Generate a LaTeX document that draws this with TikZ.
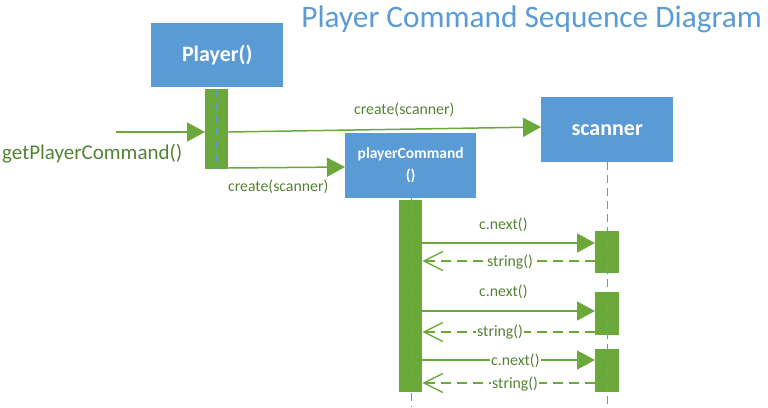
\documentclass[tikz,border=0pt]{standalone}
\usepackage{fontspec}
\setmainfont{Carlito}
\usetikzlibrary{arrows.meta}
\definecolor{boxblue}{RGB}{91,155,213}
\definecolor{bargreen}{RGB}{106,168,58}
\definecolor{txtgreen}{RGB}{84,130,53}
\tikzset{
  objbox/.style={fill=boxblue, draw=none, inner sep=0pt, anchor=north west, text=white, font=\bfseries, align=center},
  actbar/.style={fill=bargreen, draw=none, inner sep=0pt, anchor=north west, minimum width=23pt},
  lifeline/.style={draw=boxblue, line width=1pt, dash pattern=on 8pt off 5pt},
  callmsg/.style={draw=bargreen, line width=1.5pt, -{Triangle[length=18pt,width=19pt]}},
  retmsg/.style={draw=bargreen, line width=1.3pt, dash pattern=on 10pt off 6pt, -{Straight Barb[length=19pt,width=19pt,line width=1.3pt]}},
  msglabel/.style={text=txtgreen, inner sep=0pt, font=\fontsize{15.8}{19}\selectfont},
  onlabel/.style={msglabel, fill=white, inner xsep=1pt, inner ysep=0pt}
}
\begin{document}
\begin{tikzpicture}[x=1pt,y=-1pt]
\useasboundingbox (0,0) rectangle (768,407);
% title
\node[anchor=base east, inner sep=0pt, text=boxblue, font=\fontsize{31.3}{36}\selectfont] (title) at (762,27) {Player Command Sequence Diagram};
% objects
\node[objbox, minimum width=132pt, minimum height=64pt, font=\bfseries\fontsize{22}{26}\selectfont] (player) at (151,23) {Player()};
\node[objbox, minimum width=131pt, minimum height=65pt, font=\bfseries\fontsize{15.5}{22}\selectfont] (pc) at (345,133) {playerCommand\\()};
\node[objbox, minimum width=132pt, minimum height=65pt, font=\bfseries\fontsize{22}{26}\selectfont] (scanner) at (541,97) {scanner};
% activation bars
\node[actbar, minimum height=80pt] (pbar) at (205,89) {};
\node[actbar, minimum height=192pt] (pcbar) at (399,200) {};
\node[actbar, minimum width=24pt, minimum height=42pt] (sb1) at (595,231) {};
\node[actbar, minimum width=24pt, minimum height=43pt] (sb2) at (595,292) {};
\node[actbar, minimum width=24pt, minimum height=43pt] (sb3) at (595,349) {};
% lifelines
\coordinate (pcend) at (411,407);
\coordinate (scend) at (607,407);
\draw[lifeline] (pbar.north) -- (pbar.south);
\draw[lifeline] (pc.south -| pcend) -- (pcend);
\draw[lifeline] (scanner.south -| scend) -- (scend);
% incoming call
\coordinate (start) at (116,132);
\node[anchor=base west, inner sep=0pt, text=txtgreen, font=\fontsize{21}{25}\selectfont] (gpc) at (2,159) {getPlayerCommand()};
\draw[callmsg] (start) -- (pbar.west |- start);
% creates
\draw[callmsg] (pbar.east |- 0,132) -- (scanner.west |- 0,127);
\node[msglabel, anchor=base west] (l1) at (354,114) {create(scanner)};
\draw[callmsg] (pbar.east |- 0,168) -- (pc.west |- 0,167);
\node[msglabel, anchor=base west] (l2) at (228,191) {create(scanner)};
% messages
\draw[callmsg] (pcbar.east |- 0,243) -- (sb1.west |- 0,243);
\node[msglabel, anchor=base west] (m1) at (479,229) {c.next()};
\draw[retmsg] (sb1.west |- 0,261) -- (pcbar.east |- 0,261);
\node[onlabel, anchor=base west] (r1) at (486,266) {string()};
\draw[callmsg] (pcbar.east |- 0,311) -- (sb2.west |- 0,311);
\node[msglabel, anchor=base west] (m2) at (479,296) {c.next()};
\draw[retmsg] (sb2.west |- 0,332) -- (pcbar.east |- 0,332);
\node[onlabel, anchor=base west] (r2) at (476,336) {string()};
\draw[callmsg] (pcbar.east |- 0,360) -- (sb3.west |- 0,360);
\node[onlabel, anchor=base west] (m3) at (490,365) {c.next()};
\draw[retmsg] (sb3.west |- 0,383) -- (pcbar.east |- 0,383);
\node[onlabel, anchor=base west] (r3) at (491,388) {string()};
\end{tikzpicture}
\end{document}
